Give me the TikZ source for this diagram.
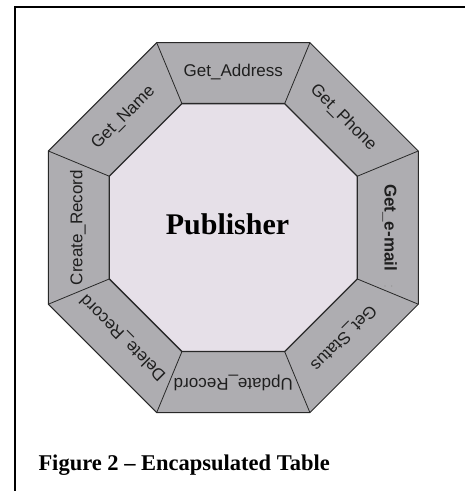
\documentclass[tikz,border=0pt]{standalone}
\usepackage{fontspec}
\setmainfont{Liberation Serif}
\newfontfamily\labelfont{Liberation Sans}
\definecolor{bandgray}{RGB}{174,173,177}
\definecolor{innerfill}{RGB}{230,224,232}
\definecolor{edgecol}{RGB}{40,40,40}
\begin{document}
\begin{tikzpicture}[x=1pt,y=1pt,
  band/.style={fill=bandgray,draw=edgecol,line width=1pt,line join=miter},
  core/.style={fill=innerfill,draw=edgecol,line width=1.3pt,line join=miter},
  spoke/.style={draw=edgecol,line width=0.8pt},
  lab/.style={font=\labelfont\fontsize{17}{17}\selectfont,text=black!88,inner sep=0pt,text height=12.2pt,text depth=0pt,anchor=center},
  frameline/.style={line width=2pt,draw=black}
]
\useasboundingbox (0,0) rectangle (465,491);
\coordinate (c) at (233.3,263.4);
\foreach \k in {0,...,7}{
  \coordinate (o\k) at ([shift={({22.5+45*\k}:200.2)}]c);
  \coordinate (i\k) at ([shift={({22.5+45*\k}:134.2)}]c);
}
% frame
\coordinate (fb) at (15,0);
\coordinate (fc) at (15,484);
\coordinate (fr) at (466,484);
\draw[frameline] (fb) -- (fc) -- (fr);
% octagons
\path[band] (o0) -- (o1) -- (o2) -- (o3) -- (o4) -- (o5) -- (o6) -- (o7) -- cycle;
\path[core] (i0) -- (i1) -- (i2) -- (i3) -- (i4) -- (i5) -- (i6) -- (i7) -- cycle;
\foreach \k in {0,...,7}{ \draw[spoke] (i\k) -- (o\k); }
% labels
\node[lab] (ga) at ([shift={(90:157)}]c) {Get\_Address};
\node[lab,rotate=-45] (gp) at ([shift={(45:157)}]c) {Get\_Phone};
\node[lab,rotate=-90,font=\labelfont\bfseries\fontsize{17}{17}\selectfont] (ge) at ([shift={(0:157.4)}]c) {Get\_e-mail};
\node[lab,rotate=-135] (gs) at ([shift={(-45:157)}]c) {Get\_Status};
\node[lab,rotate=180] (ur) at ([shift={(-90:157)}]c) {Update\_Record};
\node[lab,rotate=135] (dr) at ([shift={(-135:157)}]c) {Delete\_Record};
\node[lab,rotate=90] (cr) at ([shift={(180:157)}]c) {Create\_Record};
\node[lab,rotate=45] (gn) at ([shift={(135:157)}]c) {Get\_Name};
% faint marks under Get_e-mail
\coordinate (d1) at (385,205);
\coordinate (d2) at (391.7,205);
\fill[black!45] (d1) circle (0.7);
\fill[black!45] (d2) circle (0.7);
% centre title
\node[anchor=base,inner sep=0pt,font=\bfseries\fontsize{30}{30}\selectfont] (pub) at (227.5,256) {Publisher};
% caption
\node[anchor=base west,inner sep=0pt,font=\bfseries\fontsize{22.5}{22.5}\selectfont] (cap) at (38.3,20.3) {Figure 2 – Encapsulated Table};
\end{tikzpicture}
\end{document}
